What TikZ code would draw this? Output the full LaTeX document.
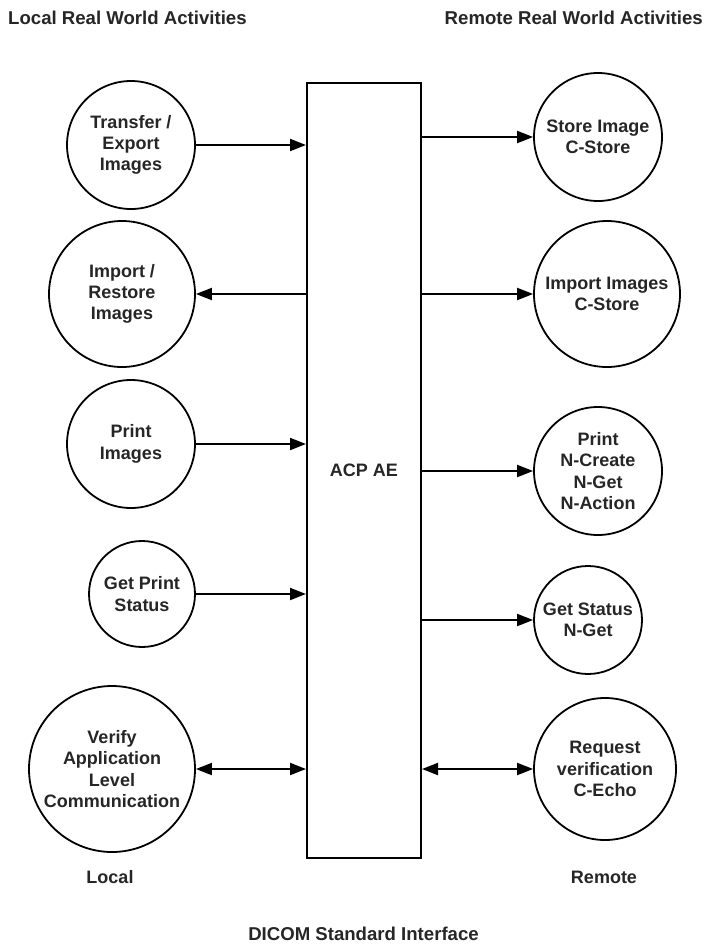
\documentclass[tikz,border=0pt]{standalone}
\usepackage{fontspec}
\setmainfont{Liberation Sans}
\usetikzlibrary{arrows.meta}
\begin{document}
\begin{tikzpicture}[x=1pt,y=-1pt,
  every node/.style={font=\fontsize{18}{21.3}\selectfont\bfseries, text=black!85},
  act/.style={draw=black, line width=1.8pt, circle, inner sep=0pt, align=center},
  tip/.tip={Triangle[length=16pt,width=12pt]},
  conn/.style={line width=2pt, -tip},
  bconn/.style={line width=2pt, tip-tip},
  lbl/.style={inner sep=0pt},
  ttl/.style={inner sep=0pt, font=\fontsize{18.6}{22}\selectfont\bfseries}]
\useasboundingbox (0,0) rectangle (706,945);
\fill[white] (0,0) rectangle (706,945);

% central box
\node[draw, line width=2pt, rectangle, minimum width=114pt, minimum height=775pt, inner sep=0pt] (box) at (364,470.5) {ACP AE};

% titles
\node[ttl, anchor=west] (tl) at (8,18) {Local Real World Activities};
\node[ttl, anchor=east] (tr) at (703,18) {Remote Real World Activities};
\node[lbl] (loc) at (110,877) {Local};
\node[lbl] (rem) at (604,877) {Remote};
\node[ttl] (dic) at (363.5,934) {DICOM Standard Interface};

% local activities
\node[act, minimum size=128pt] (l1) at (131,145) {Transfer /\\Export\\Images};
\node[act, minimum size=146pt] (l2) at (122,294) {Import /\\Restore\\Images};
\node[act, minimum size=128pt] (l3) at (131,444) {Print\\Images};
\node[act, minimum size=106pt] (l4) at (142,594) {Get Print\\Status};
\node[act, minimum size=166pt] (l5) at (112,769) {Verify\\Application\\Level\\Communication};

% remote activities
\node[act, minimum size=128pt] (r1) at (598,137) {Store Image\\C-Store};
\node[act, minimum size=146pt] (r2) at (607,294) {Import Images\\C-Store};
\node[act, minimum size=128pt] (r3) at (598,471) {Print\\N-Create\\N-Get\\N-Action};
\node[act, minimum size=108pt] (r4) at (588,620) {Get Status\\N-Get};
\node[act, minimum size=142pt] (r5) at (605,769) {Request\\verification\\C-Echo};

% connectors
\draw[conn] (l1.east) -- (l1.east -| box.west);
\draw[conn] (l2.east -| box.west) -- (l2.east);
\draw[conn] (l3.east) -- (l3.east -| box.west);
\draw[conn] (l4.east) -- (l4.east -| box.west);
\draw[bconn] (l5.east) -- (l5.east -| box.west);

\draw[conn] (r1.west -| box.east) -- (r1.west);
\draw[conn] (r2.west -| box.east) -- (r2.west);
\draw[conn] (r3.west -| box.east) -- (r3.west);
\draw[conn] (r4.west -| box.east) -- (r4.west);
\draw[bconn] (r5.west -| box.east) -- (r5.west);
\end{tikzpicture}
\end{document}
